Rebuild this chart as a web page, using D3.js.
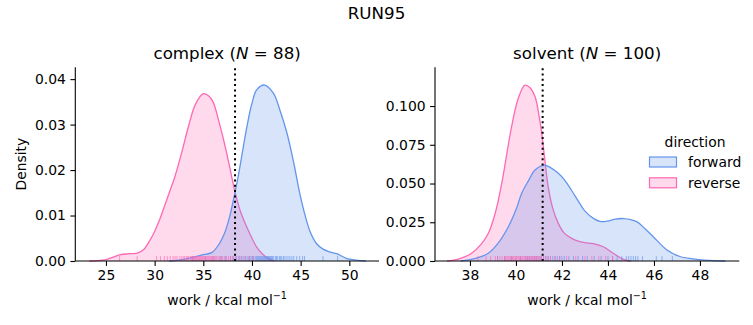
<!DOCTYPE html>
<html><head><meta charset="utf-8">
<script src="https://cdn.jsdelivr.net/npm/d3@7"></script>
<style>body{margin:0;background:#fff}svg{display:block}text{font-family:"DejaVu Sans",sans-serif;fill:#000}</style>
</head><body><svg id="c" width="753" height="325"></svg>
<script>
// ---------- data ----------
const directions = ["forward", "reverse"];
const colors = ["#6495ED", "#FF69B4"];
const suptitle = "RUN95";
const phases = ["complex", "solvent"];
const phaseN = [88, 100];
const meanLine = [38.26, 41.16];

// density curves: [work, density]
const complexForwardX = [31.5, 32.5, 33.5, 34.8, 35.9, 36.7, 37.2, 37.7, 38.2, 38.6, 39.0, 39.5, 40.0, 40.5, 41.3, 42.2, 42.9, 43.6, 44.3, 44.9, 45.5, 46.0, 46.6, 47.3, 48.0, 48.7, 49.2, 49.7, 50.7, 51.7];
const complexForwardD = [0, 0.0002, 0.0006, 0.0013, 0.0019, 0.0040, 0.0062, 0.0097, 0.0145, 0.0188, 0.0237, 0.0298, 0.0347, 0.0377, 0.0387, 0.0369, 0.0330, 0.0281, 0.0215, 0.0150, 0.0097, 0.0063, 0.0039, 0.0026, 0.0020, 0.0016, 0.0011, 0.0006, 0.0002, 0];
const complexReverseX = [23.3, 24.2, 25.0, 25.8, 26.5, 27.5, 28.3, 28.9, 29.5, 30.0, 30.5, 31.0, 31.5, 32.1, 32.8, 33.5, 34.2, 35.0, 35.5, 36.0, 36.6, 37.1, 37.6, 38.2, 38.8, 39.5, 40.0, 40.5, 41.0, 41.5, 42.3];
const complexReverseD = [0, 0.0001, 0.0003, 0.0009, 0.0014, 0.0016, 0.0018, 0.0026, 0.0045, 0.0065, 0.0090, 0.0120, 0.0150, 0.0187, 0.0240, 0.0298, 0.0345, 0.0368, 0.0364, 0.0350, 0.0307, 0.0265, 0.0218, 0.0157, 0.0110, 0.0073, 0.0050, 0.0030, 0.0017, 0.0008, 0];
const solventForwardX = [37.6, 38.2, 38.8, 39.2, 39.67, 40.0, 40.25, 40.55, 40.83, 41.23, 41.5, 41.84, 42.1, 42.42, 42.78, 43.0, 43.4, 43.7, 44.0, 44.23, 44.67, 45.25, 45.6, 45.97, 46.55, 47.13, 47.86, 48.6, 49.1];
const solventForwardD = [0, 0.0015, 0.005, 0.011, 0.0221, 0.033, 0.0437, 0.052, 0.0587, 0.0619, 0.0603, 0.0566, 0.0525, 0.0455, 0.0370, 0.0322, 0.0272, 0.0254, 0.0258, 0.0267, 0.0274, 0.0254, 0.021, 0.0157, 0.0073, 0.0029, 0.0011, 0.0002, 0];
const solventReverseX = [37.0, 37.5, 38.07, 38.5, 38.8, 39.1, 39.38, 39.6, 39.81, 40.1, 40.39, 40.6, 40.83, 41.0, 41.12, 41.25, 41.4, 41.6, 41.84, 42.1, 42.42, 42.78, 43.0, 43.36, 43.8, 44.23, 44.67, 45.0];
const solventReverseD = [0, 0.0012, 0.005, 0.011, 0.0179, 0.031, 0.050, 0.069, 0.0867, 0.105, 0.1135, 0.112, 0.106, 0.094, 0.0824, 0.066, 0.048, 0.034, 0.0243, 0.018, 0.0146, 0.0125, 0.0118, 0.0112, 0.0092, 0.005, 0.0011, 0];

// rug samples (estimated)
const complexForwardRug = [33.9, 35.2, 36.0, 36.8, 37.3, 37.8, 38.1, 38.4, 38.7, 38.9, 39.1, 39.3, 39.5, 39.7, 39.8, 40.0, 40.1, 40.2, 40.4, 40.5, 40.6, 40.7, 40.8, 40.9, 41.0, 41.1, 41.2, 41.3, 41.4, 41.5, 41.6, 41.7, 41.8, 41.9, 42.0, 42.1, 42.2, 42.4, 42.5, 42.6, 42.8, 42.9, 43.0, 43.2, 43.3, 43.5, 43.7, 43.9, 44.1, 44.3, 44.6, 44.9, 45.2, 45.4, 47.3, 48.8];
const complexReverseRug = [26.4, 28.2, 30.2, 30.6, 31.0, 31.3, 31.6, 31.9, 32.1, 32.3, 32.6, 32.8, 33.0, 33.1, 33.3, 33.4, 33.5, 33.7, 33.8, 33.9, 34.0, 34.1, 34.2, 34.3, 34.4, 34.5, 34.6, 34.7, 34.8, 34.9, 35.0, 35.1, 35.2, 35.3, 35.4, 35.5, 35.6, 35.7, 35.8, 35.9, 36.0, 36.1, 36.2, 36.3, 36.4, 36.6, 36.7, 36.9, 37.0, 37.2, 37.4, 37.6, 37.8, 38.0, 38.3, 38.6, 38.9, 39.3, 39.7, 40.1];
const solventForwardRug = [39.2, 39.5, 39.8, 40.0, 40.2, 40.4, 40.5, 40.6, 40.7, 40.8, 40.9, 41.0, 41.1, 41.2, 41.3, 41.4, 41.5, 41.6, 41.7, 41.8, 41.9, 42.0, 42.1, 42.3, 42.5, 42.7, 42.9, 43.1, 43.4, 43.7, 44.0, 44.2, 44.4, 44.6, 44.8, 44.9, 45.0, 45.1, 45.2, 45.3, 45.5, 46.1, 46.35, 46.8];
const solventReverseRug = [38.35, 38.7, 38.9, 39.1, 39.2, 39.3, 39.4, 39.5, 39.55, 39.6, 39.65, 39.7, 39.75, 39.8, 39.85, 39.9, 39.95, 40.0, 40.05, 40.1, 40.15, 40.2, 40.25, 40.3, 40.35, 40.4, 40.45, 40.5, 40.55, 40.6, 40.65, 40.7, 40.75, 40.8, 40.85, 40.9, 40.95, 41.0, 41.05, 41.1, 41.2, 41.3, 41.4, 41.5, 41.7, 41.9, 42.2, 42.6, 43.0, 43.3, 43.6, 43.9, 44.2];

const xTicksComplex = [25, 30, 35, 40, 45, 50];
const yTicksComplex = [0, 0.01, 0.02, 0.03, 0.04];
const xTicksSolvent = [38, 40, 42, 44, 46, 48];
const yTicksSolvent = [0, 0.025, 0.05, 0.075, 0.1];

const xLabel = "work / kcal mol";
const yLabel = "Density";
const legendTitle = "direction";

// ---------- drawing ----------
const svg = d3.select("#c");
svg.append("rect").attr("width", 753).attr("height", 325).attr("fill", "#fff");
const FS = 13.9;

svg.append("text").attr("x", 376.5).attr("y", 18.5).attr("text-anchor", "middle")
  .style("font-size", "16.7px").text(suptitle);

const panels = [
  { name: phases[0], N: phaseN[0], x0: 75.3, x1: 379, xd: [21.85, 53.05], yd: [0, 0.0426],
    xt: xTicksComplex, yt: yTicksComplex, yf: d3.format(".2f"),
    curves: [[complexForwardX, complexForwardD], [complexReverseX, complexReverseD]],
    rugs: [complexForwardRug, complexReverseRug], mean: meanLine[0], ylab: true },
  { name: phases[1], N: phaseN[1], x0: 435, x1: 739.3, xd: [36.48, 49.71], yd: [0, 0.125],
    xt: xTicksSolvent, yt: yTicksSolvent, yf: d3.format(".3f"),
    curves: [[solventForwardX, solventForwardD], [solventReverseX, solventReverseD]],
    rugs: [solventForwardRug, solventReverseRug], mean: meanLine[1], ylab: false }
];
const yTop = 67.3, yBot = 261;

panels.forEach(p => {
  const x = d3.scaleLinear().domain(p.xd).range([p.x0, p.x1]);
  const y = d3.scaleLinear().domain(p.yd).range([yBot, yTop]);
  const g = svg.append("g");
  const cv = d3.curveCatmullRom.alpha(0.5);
  const area = d3.area().curve(cv).x(d => x(d[0])).y0(y(0)).y1(d => Math.min(y(0), y(d[1])));
  const line = d3.line().curve(cv).x(d => x(d[0])).y(d => y(d[1]));
  // reverse drawn first, forward on top
  [1, 0].forEach(i => {
    const pts = p.curves[i][0].map((v, k) => [v, p.curves[i][1][k]]);
    g.append("path").datum(pts).attr("d", area).attr("fill", colors[i]).attr("fill-opacity", 0.25);
    g.append("path").datum(pts).attr("d", line).attr("fill", "none").attr("stroke", colors[i]).attr("stroke-width", 1.3);
  });
  // rugs
  [0, 1].forEach(i => {
    g.selectAll(null).data(p.rugs[i]).enter().append("line")
      .attr("x1", d => x(d)).attr("x2", d => x(d)).attr("y1", yBot).attr("y2", yBot - 5)
      .attr("stroke", colors[i]).attr("stroke-width", 1).attr("stroke-opacity", 0.65);
  });
  // mean line
  g.append("line").attr("x1", x(p.mean)).attr("x2", x(p.mean)).attr("y1", yBot).attr("y2", yTop)
    .attr("stroke", "#000").attr("stroke-width", 2).attr("stroke-dasharray", "2,3.3");

  // axes
  const xa = g.append("g").attr("transform", `translate(0,${yBot})`)
    .call(d3.axisBottom(x).tickValues(p.xt).tickSize(4.9).tickPadding(4.5).tickFormat(d3.format("d")));
  const ya = g.append("g").attr("transform", `translate(${p.x0},0)`)
    .call(d3.axisLeft(y).tickValues(p.yt).tickSize(4.9).tickPadding(4.5).tickFormat(p.yf));
  [xa, ya].forEach(a => {
    a.select(".domain").attr("stroke", "#000").attr("stroke-width", 1.1);
    a.selectAll(".tick line").attr("stroke", "#000").attr("stroke-width", 1.1);
    a.selectAll(".tick text").style("font-size", FS + "px").style("font-family", "DejaVu Sans").attr("fill", "#000");
  });
  xa.select(".domain").attr("d", `M${p.x0},0H${p.x1}`);
  ya.select(".domain").attr("d", `M0,${yBot}V${yTop}`);

  // title
  const t = g.append("text").attr("x", (p.x0 + p.x1) / 2).attr("y", 59).attr("text-anchor", "middle")
    .style("font-size", "16.7px");
  t.append("tspan").text(p.name + " (");
  t.append("tspan").style("font-style", "italic").text("N");
  t.append("tspan").text(" = " + p.N + ")");

  // x label
  const xl = g.append("text").attr("x", (p.x0 + p.x1) / 2).attr("y", 305).attr("text-anchor", "middle")
    .style("font-size", FS + "px");
  xl.append("tspan").text(xLabel);
  xl.append("tspan").attr("dy", -6).style("font-size", "9.7px").text("\u22121");

  if (p.ylab) {
    g.append("text").attr("transform", `translate(26,${(yTop + yBot) / 2}) rotate(-90)`)
      .attr("text-anchor", "middle").style("font-size", FS + "px").text(yLabel);
  }
});

// legend
const lg = svg.append("g");
lg.append("text").attr("x", 695).attr("y", 146.5).attr("text-anchor", "middle").style("font-size", FS + "px").text(legendTitle);
directions.forEach((d, i) => {
  const cy = 162 + i * 20.8;
  lg.append("rect").attr("x", 649.5).attr("y", cy - 5).attr("width", 27).attr("height", 10)
    .attr("fill", colors[i]).attr("fill-opacity", 0.25).attr("stroke", colors[i]).attr("stroke-width", 1.2);
  lg.append("text").attr("x", 688).attr("y", cy + 5).style("font-size", FS + "px").text(d);
});
</script></body></html>
